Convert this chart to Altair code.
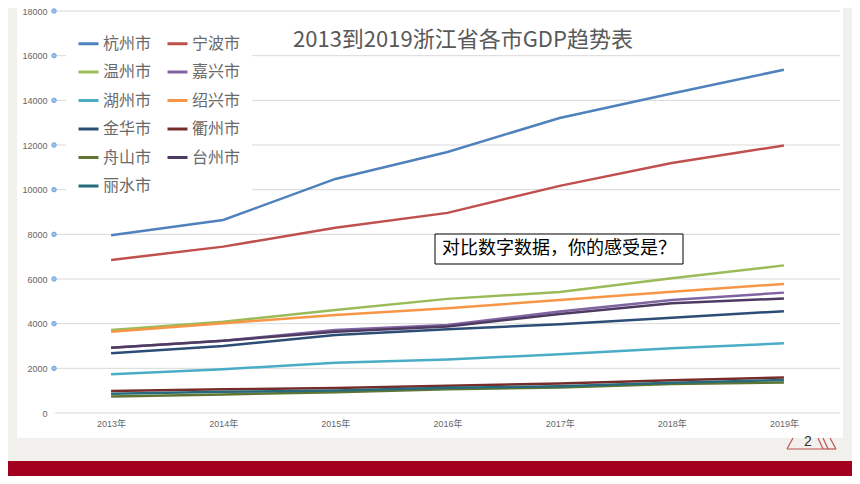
import altair as alt
import pandas as pd

years = ["2013年", "2014年", "2015年", "2016年", "2017年", "2018年", "2019年"]
cities = ["杭州市", "宁波市", "温州市", "嘉兴市", "湖州市", "绍兴市",
          "金华市", "衢州市", "舟山市", "台州市", "丽水市"]
colors = ["#4f81bd", "#c0504d", "#9bbb59", "#8064a2", "#4bacc6", "#f79646",
          "#2c4d75", "#772c2a", "#5f7530", "#4d3b62", "#276a7c"]

hangzhou = [7960, 8640, 10480, 11690, 13210, 14310, 15370]
ningbo = [6850, 7450, 8290, 8960, 10170, 11190, 11980]
wenzhou = [3720, 4090, 4610, 5110, 5420, 6030, 6610]
jiaxing = [2920, 3240, 3720, 3940, 4540, 5060, 5390]
huzhou = [1730, 1960, 2250, 2400, 2630, 2900, 3120]
shaoxing = [3640, 4020, 4390, 4690, 5060, 5430, 5780]
jinhua = [2670, 3000, 3490, 3750, 3970, 4270, 4560]
quzhou = [990, 1060, 1120, 1220, 1320, 1470, 1590]
zhoushan = [740, 830, 930, 1060, 1140, 1300, 1370]
taizhou = [2920, 3230, 3640, 3870, 4430, 4910, 5130]
lishui = [860, 950, 1010, 1130, 1200, 1360, 1480]

series = [hangzhou, ningbo, wenzhou, jiaxing, huzhou, shaoxing,
          jinhua, quzhou, zhoushan, taizhou, lishui]

y_ticks = [0, 2000, 4000, 6000, 8000, 10000, 12000, 14000, 16000, 18000]
dot_ticks = [2000, 4000, 6000, 8000, 10000, 12000, 14000, 16000, 18000]

title_text = "2013到2019浙江省各市GDP趋势表"
note_text = "对比数字数据，你的感受是？"
page_text = "2"

rows = []
for c, vals in zip(cities, series):
    for yr, v in zip(years, vals):
        rows.append({"city": c, "year": yr, "gdp": v})
df = pd.DataFrame(rows)

# the legend is filled column by column (6 rows), so list the cities so that
# reading it row by row gives the original order
legend_order = cities[0::2] + cities[1::2]
legend_colors = [colors[cities.index(c)] for c in legend_order]

W, H = 785, 402
one = alt.Data(values=[{"a": 1}])
AX_FONT = "Liberation Sans, Noto Sans CJK SC"
CJK = "Noto Sans CJK SC"

yscale = alt.Scale(domain=[0, 18000], nice=False)

panel = alt.Chart(one).mark_rect(color="white").encode(
    x=alt.value(-38), x2=alt.value(788), y=alt.value(-4), y2=alt.value(427)
)
redbar = alt.Chart(one).mark_rect(color="#a30020").encode(
    x=alt.value(-60), x2=alt.value(820), y=alt.value(450), y2=alt.value(480)
)

grid = alt.Chart(pd.DataFrame({"v": y_ticks})).mark_rule(
    color="#d9d9d9", strokeWidth=1
).encode(
    y=alt.Y("v:Q", scale=yscale),
    x=alt.value(0), x2=alt.value(W)
)

lines = alt.Chart(df).mark_line(strokeWidth=2.5).encode(
    x=alt.X("year:O", sort=years, scale=alt.Scale(type="point", padding=0.5),
            axis=alt.Axis(title=None, labelAngle=0, ticks=False, domain=False,
                          grid=False, labelFont=AX_FONT, labelFontSize=9,
                          labelColor="#666666", labelPadding=6, zindex=1)),
    y=alt.Y("gdp:Q", scale=yscale,
            axis=alt.Axis(title=None, values=y_ticks, format="d", ticks=False,
                          domain=False, grid=False, labelFont=AX_FONT,
                          labelFontSize=9, labelColor="#666666", labelPadding=8,
                          zindex=1)),
    color=alt.Color("city:N", sort=legend_order,
                    scale=alt.Scale(domain=legend_order, range=legend_colors),
                    title=None,
                    legend=alt.Legend(orient="none", legendX=11, legendY=10,
                                      columns=2, columnPadding=9, rowPadding=8.5,
                                      symbolType="stroke", symbolStrokeWidth=3,
                                      symbolSize=400, labelOffset=3,
                                      labelFont=CJK, labelFontSize=16,
                                      labelColor="#6a6a6a", fillColor="white",
                                      padding=11)),
    detail="city:N"
)

dots = alt.Chart(pd.DataFrame({"v": dot_ticks})).mark_point(
    filled=True, size=20, color="#9cc3e8", stroke="#6aa5dc", strokeWidth=1, opacity=1
).encode(
    y=alt.Y("v:Q", scale=yscale),
    x=alt.value(-1)
)

title = alt.Chart(one).mark_text(
    text=title_text, font=CJK, fontSize=22, color="#595959",
    align="left", baseline="middle"
).encode(x=alt.value(238), y=alt.value(29))

box = alt.Chart(one).mark_rect(fill="white", stroke="black", strokeWidth=1).encode(
    x=alt.value(380), x2=alt.value(628), y=alt.value(223), y2=alt.value(253)
)
note = alt.Chart(one).mark_text(
    text=note_text, font=CJK, fontSize=18, color="black",
    align="left", baseline="middle"
).encode(x=alt.value(387), y=alt.value(238))

page = alt.Chart(one).mark_text(
    text=page_text, font="Liberation Sans", fontSize=14, color="#333333",
    align="center", baseline="middle"
).encode(x=alt.value(753), y=alt.value(431))

chev_col = "#c0504d"
chev = [
    alt.Chart(one).mark_rule(color=chev_col, strokeWidth=1.2).encode(
        x=alt.value(732), x2=alt.value(768), y=alt.value(438), y2=alt.value(438)),
    alt.Chart(one).mark_rule(color=chev_col, strokeWidth=1.2).encode(
        x=alt.value(732), x2=alt.value(738), y=alt.value(438), y2=alt.value(427)),
    alt.Chart(one).mark_rule(color=chev_col, strokeWidth=1.2).encode(
        x=alt.value(763), x2=alt.value(768), y=alt.value(427), y2=alt.value(438)),
    alt.Chart(one).mark_rule(color=chev_col, strokeWidth=1.2).encode(
        x=alt.value(768), x2=alt.value(781), y=alt.value(438), y2=alt.value(438)),
    alt.Chart(one).mark_rule(color=chev_col, strokeWidth=1.2).encode(
        x=alt.value(768), x2=alt.value(773), y=alt.value(427), y2=alt.value(438)),
    alt.Chart(one).mark_rule(color=chev_col, strokeWidth=1.2).encode(
        x=alt.value(775), x2=alt.value(781), y=alt.value(427), y2=alt.value(438)),
]

chart = alt.layer(
    panel, redbar, grid, lines, dots, title, box, note, page, *chev
).properties(
    width=W, height=H,
    autosize=alt.AutoSizeParams(type="none"),
    padding={"left": 47, "top": 3, "right": 12, "bottom": 63},
    background="#f1f0ec"
).configure_view(strokeWidth=0)

chart.save("out.html", embed_options={"renderer": "svg", "actions": False})
